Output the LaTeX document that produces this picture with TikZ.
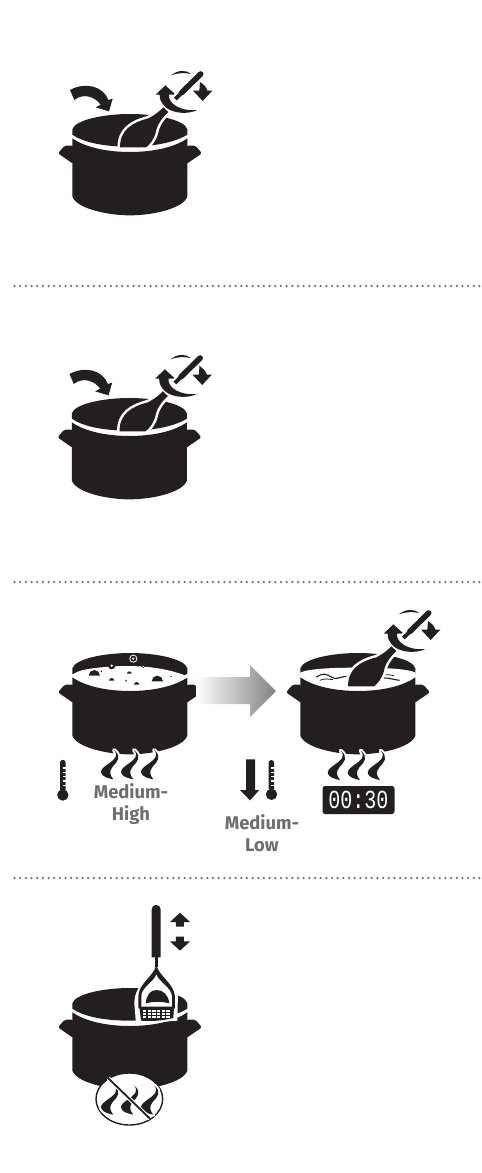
\documentclass[tikz,border=0pt]{standalone}
\usepackage{fontspec}
\setmainfont{Fira Sans}
\newfontfamily\clockfont{Liberation Mono}
\definecolor{ink}{HTML}{231F20}
\definecolor{labelgray}{HTML}{6D6E71}
\definecolor{rulegray}{HTML}{6D6E71}
\definecolor{arrowgray}{HTML}{808285}
\tikzset{
  dotrule/.style={rulegray,line width=2.5pt,line cap=round,dash pattern=on 0pt off 5.67pt},
  potlabel/.style={font=\bfseries\fontsize{18.4}{21.5}\selectfont,text=labelgray,align=center,inner sep=0pt},
}
% all shapes below are in zoom units (1/3 px), pot origin at (270,192)
\newcommand{\potbody}{%
  \fill[ink] (97,238) .. controls (105,210) and (190,192) .. (270,192) .. controls (350,192) and (435,210) .. (442,238) -- (442,254) .. controls (400,280) and (330,290) .. (270,290) .. controls (200,290) and (135,280) .. (97,254) -- cycle;
  \fill[ink] (97,265) .. controls (140,295) and (210,306) .. (270,306) .. controls (330,306) and (400,295) .. (442,265) -- (442,340) -- (442,440) .. controls (430,475) and (340,496) .. (270,496) .. controls (200,496) and (110,475) .. (97,440) -- cycle;
  \fill[ink,rounded corners=1.6pt] (100,287) -- (74,287) -- (54,310) -- (100,342) -- cycle;
  \fill[ink,rounded corners=1.6pt] (439,287) -- (466,287) -- (486,310) -- (439,342) -- cycle;
}
\newcommand{\flameshape}{(0,0) .. controls (15,18) and (2,28) .. (-18,42) .. controls (-32,52) and (-42,60) .. (-38,70) .. controls (-34,80) and (-15,86) .. (-2,88) .. controls (-12,75) and (-16,65) .. (-4,50) .. controls (10,35) and (25,20) .. (0,0) -- cycle}
\newcommand{\flame}[2]{%
  \begin{scope}[shift={(#1,#2)}]
    \path[draw=white,fill=white,line width=4pt,line join=round] \flameshape;
    \fill[ink] \flameshape;
  \end{scope}}
\newcommand{\stirarrow}{%
  \fill[ink] (90,120) .. controls (135,95) and (190,108) .. (205,150) -- (218,146) -- (207,184) -- (167,172) -- (182,164) .. controls (165,140) and (130,128) .. (103,150) -- cycle;
}
\newcommand{\bowlshape}{(240,292) .. controls (240,240) and (275,218) .. (325,205) .. controls (345,195) and (357,185) .. (370,172) -- (385,186) .. controls (368,202) and (352,222) .. (348,245) .. controls (342,268) and (330,283) .. (318,292) -- cycle}
\newcommand{\spoon}{%
  \path[draw=white,line width=5pt,line join=round,fill=white] \bowlshape;
  \fill[ink] \bowlshape;
  % left rotation arrow
  \fill[ink] (376,106) -- (407,134) -- (387,134) .. controls (384,160) and (420,185) .. (472,180) .. controls (430,200) and (358,185) .. (359,134) -- (347,134) -- cycle;
  % upper crescent
  \fill[ink] (393,76) .. controls (415,58) and (440,60) .. (454,72) .. controls (435,68) and (415,68) .. (393,76) -- cycle;
  % right arrow
  \fill[ink] (480,96) .. controls (492,104) and (500,112) .. (502,122) -- (517,122) -- (488,153) -- (459,122) -- (478,122) -- cycle;
  % handle
  \draw[white,line width=8pt,line cap=round] (482,72) -- (412,140);
  \draw[ink,line width=5.6pt,line cap=round] (482,72) -- (425,128);
  \draw[ink,line width=4pt] (425,128) -- (406,147);
}
\begin{document}
\begin{tikzpicture}[x=1pt,y=-1pt]
\useasboundingbox (0,0) rectangle (482,1173);
\fill[white] (0,0) rectangle (482,1173);

% rules
\draw[dotrule] (14.5,286) -- (481,286);
\draw[dotrule] (14.5,582) -- (481,582);
\draw[dotrule] (14.5,878) -- (481,878);

% Pot 1
\begin{scope}[shift={(130,114)},scale=1/3,shift={(-270,-192)}]
  \potbody \stirarrow \spoon
\end{scope}

% Pot 2
\begin{scope}[shift={(129.5,398)},scale=1/3,shift={(-270,-192)}]
  \potbody \stirarrow \spoon
\end{scope}

% Pot 3: boiling
\begin{scope}[shift={(130,653)},scale=1/3,shift={(-270,-192)}]
  \potbody
  \fill[white] (97,257) .. controls (115,245) and (130,240) .. (195,234) .. controls (260,228) and (360,228) .. (442,262) -- (442,266) .. controls (400,288) and (330,294) .. (270,294) .. controls (200,294) and (135,284) .. (97,260) -- cycle;
  % bubbles
  \fill[ink] (146,260) arc[start angle=180,end angle=360,radius=17] -- cycle;
  \fill[ink] (335,277) arc[start angle=180,end angle=360,radius=17] -- cycle;
  \fill[ink] (215,230) circle[radius=11];
  \fill[white] (215,230) circle[radius=4];
  \fill[white] (280,209) circle[radius=12];
  \fill[ink] (280,209) circle[radius=9];
  \fill[white] (280,209) circle[radius=3.5];
  \fill[ink] (310,232) circle[radius=5];
  \fill[white] (310,232) circle[radius=2];
  \fill[ink] (261,254) arc[start angle=180,end angle=360,radius=7];
  \fill[ink] (207,275) arc[start angle=180,end angle=360,radius=8];
  \fill[ink] (282,287) arc[start angle=180,end angle=360,radius=8];
  \fill[ink] (258,275) circle[radius=2.5];
  \fill[ink] (393,262) circle[radius=2.5];
  \fill[ink] (184,247) circle[radius=2.5];
\end{scope}
\begin{scope}[shift={(40,620)},scale=1/3]
  \flame{222}{390}\flame{282}{390}\flame{342}{390}
  % thermometer
  \fill[ink] (60,428) arc[start angle=180,end angle=360,radius=8.5] -- (77,510) -- (60,510) -- cycle;
  \fill[ink] (68.5,525) circle[radius=17];
  \foreach \ty in {442,455,468,481,494}{\fill[white] (68,\ty) rectangle (78,{\ty+4});}
\end{scope}
\node[potlabel] (lblhigh) at (131,804) {Medium-\\High};

% Gradient arrow
\shade[left color=white,right color=arrowgray] (196,677) -- (250,677) -- (250,665) -- (276,691) -- (250,717) -- (250,704) -- (196,704) -- cycle;

% Pot 3 right: simmering
\begin{scope}[shift={(358,653)},scale=1/3,shift={(-270,-192)}]
  \potbody
  \fill[white] (97,250) .. controls (130,238) and (200,236) .. (270,236) .. controls (340,236) and (410,238) .. (442,250) -- (442,262) .. controls (400,288) and (330,294) .. (270,294) .. controls (200,294) and (135,284) .. (97,258) -- cycle;
  % ripples
  \draw[ink,line width=1.1pt] (145,265) .. controls (165,250) and (175,255) .. (190,264) .. controls (205,274) and (212,264) .. (235,262);
  \draw[ink,line width=0.8pt] (155,274) .. controls (170,268) and (180,270) .. (195,272);
  \draw[ink,line width=1.1pt] (335,270) .. controls (350,262) and (365,270) .. (395,274);
  \draw[ink,line width=0.8pt] (340,260) .. controls (355,254) and (365,258) .. (378,260);
  \spoon
\end{scope}
\begin{scope}[shift={(220,600)},scale=1/3]
  \flame{362}{452}\flame{422}{452}\flame{482}{452}
  % down arrow
  \fill[ink] (78,478) -- (105,478) -- (105,570) -- (118,570) -- (90,601) -- (60,570) -- (78,570) -- cycle;
  % thermometer
  \fill[ink] (146,488) arc[start angle=180,end angle=360,radius=8] -- (162,568) -- (146,568) -- cycle;
  \fill[ink] (154.5,583) circle[radius=17];
  \foreach \ty in {502,515,528,541,554}{\fill[white] (154,\ty) rectangle (164,{\ty+4});}
\end{scope}
\node[potlabel] (lbllow) at (262,833) {Medium-\\Low};
% Timer
\fill[ink,rounded corners=2.5pt] (322.5,786) rectangle (394.5,814);
\node[text=white,inner sep=0pt,font=\clockfont\fontsize{20}{20}\selectfont,yscale=1.3,transform shape] (clock) at (358.5,800) {00:30};

% Pot 4: masher
\begin{scope}[shift={(130,988)},scale=1/3,shift={(-270,-192)}]
  \potbody
\end{scope}
\begin{scope}[shift={(40,900)},scale=1/3]
  % up/down arrows
  \fill[ink] (420,38) -- (450,66) -- (432,66) -- (432,80) -- (408,80) -- (408,66) -- (390,66) -- cycle;
  \fill[ink] (420,152) -- (450,124) -- (432,124) -- (432,110) -- (408,110) -- (408,124) -- (390,124) -- cycle;
  % handle
  \fill[ink] (335,28) arc[start angle=180,end angle=360,radius=13.5] -- (362,172) -- (335,172) -- cycle;
  % masher head halo
  \fill[white] (340,200) .. controls (325,235) and (284,255) .. (283,310) -- (288,372) -- (412,362) -- (414,275) .. controls (395,250) and (370,230) .. (358,200) -- cycle;
  % neck
  \fill[ink] (344,172) -- (354,172) -- (354,200) -- (344,200) -- cycle;
  % frame
  \fill[ink] (349,196) .. controls (338,232) and (296,250) .. (295,290) -- (295,325) -- (405,325) -- (405,290) .. controls (402,250) and (360,232) .. (349,196) -- cycle;
  \fill[white] (349,224) .. controls (338,250) and (304,262) .. (304,290) -- (304,325) -- (396,325) -- (396,290) .. controls (394,262) and (360,250) .. (349,224) -- cycle;
  % dome inside
  \fill[ink] (317,310) .. controls (320,285) and (330,270) .. (350,270) .. controls (370,270) and (385,285) .. (388,310) .. controls (365,304) and (340,304) .. (317,310) -- cycle;
  % plate
  \fill[ink] (298,320) -- (402,320) -- (400,354) .. controls (365,363) and (330,364) .. (303,362) -- cycle;
  \foreach \hx in {314,328,342,356,370,384}{
    \foreach \hy in {333,342,351}{
      \fill[white] ({\hx-5},{\hy-3}) rectangle ({\hx+5},{\hy+2});
    }
  }
  % no-heat badge
  \filldraw[fill=white,draw=ink,line width=1.4pt] (268,597) ellipse[x radius=100,y radius=78];
  \flame{222}{556}\flame{282}{556}\flame{342}{556}
  \draw[white,line width=4pt] (205,535) -- (330,656);
  \draw[ink,line width=1.8pt] (205,535) -- (330,656);
\end{scope}
\end{tikzpicture}
\end{document}
